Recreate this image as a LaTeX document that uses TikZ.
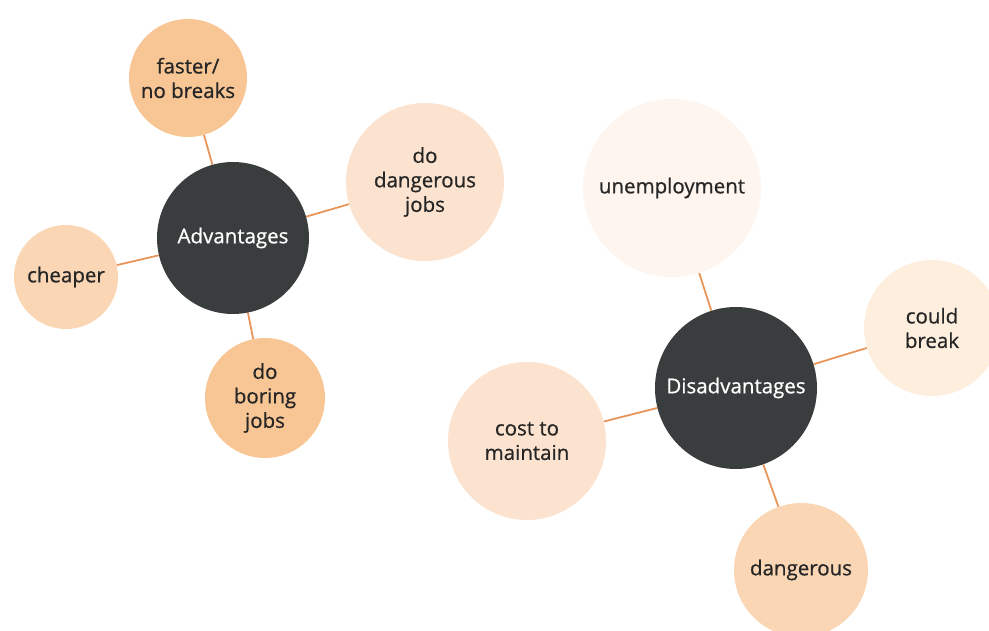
\documentclass[tikz,border=0pt]{standalone}
\usepackage{fontspec}
\setmainfont{Open Sans}[FakeBold=0.7]
\usetikzlibrary{backgrounds}

\definecolor{hubgray}{HTML}{3A3D3E}
\definecolor{linkorange}{HTML}{E8955A}
\definecolor{peachA}{HTML}{F8C595}
\definecolor{peachB}{HTML}{FAD6B4}
\definecolor{peachC}{HTML}{FCE3CF}
\definecolor{peachD}{HTML}{FDEEDE}
\definecolor{peachE}{HTML}{FEF5EE}

\begin{document}
\begin{tikzpicture}[
  x=1pt, y=-1pt, font=\fontsize{20.5}{24.5}\selectfont,
  hub/.style={circle, fill=hubgray, text=white, inner sep=0pt, align=center},
  leaf/.style={circle, inner sep=0pt, align=center, text=black!85},
  link/.style={draw=linkorange, line width=1.8pt},
]
  \useasboundingbox (0,0) rectangle (989,631);

  % advantages
  \node[hub, minimum size=152pt] (adv) at (233,238) {Advantages};
  \node[leaf, fill=peachA, minimum size=118pt] (faster) at (188,78) {faster/\\no breaks};
  \node[leaf, fill=peachC, minimum size=158pt] (dangjobs) at (425,182) {do\\dangerous\\jobs};
  \node[leaf, fill=peachB, minimum size=104pt] (cheaper) at (66,277) {cheaper};
  \node[leaf, fill=peachA, minimum size=120pt] (boring) at (265,398) {do\\boring\\jobs};

  % disadvantages
  \node[hub, minimum size=162pt] (dis) at (736,388) {Disadvantages};
  \node[leaf, fill=peachE, minimum size=178pt] (unemp) at (672,188) {unemployment};
  \node[leaf, fill=peachD, minimum size=136pt] (break) at (932,328) {could\\break};
  \node[leaf, fill=peachC, minimum size=158pt] (cost) at (527,441) {cost to\\maintain};
  \node[leaf, fill=peachB, minimum size=134pt] (danger) at (801,570) {dangerous};

  \begin{scope}[on background layer]
    \foreach \leafname in {faster,dangjobs,cheaper,boring}
      \draw[link] (adv) -- (\leafname);
    \foreach \leafname in {unemp,break,cost,danger}
      \draw[link] (dis) -- (\leafname);
  \end{scope}
\end{tikzpicture}
\end{document}
